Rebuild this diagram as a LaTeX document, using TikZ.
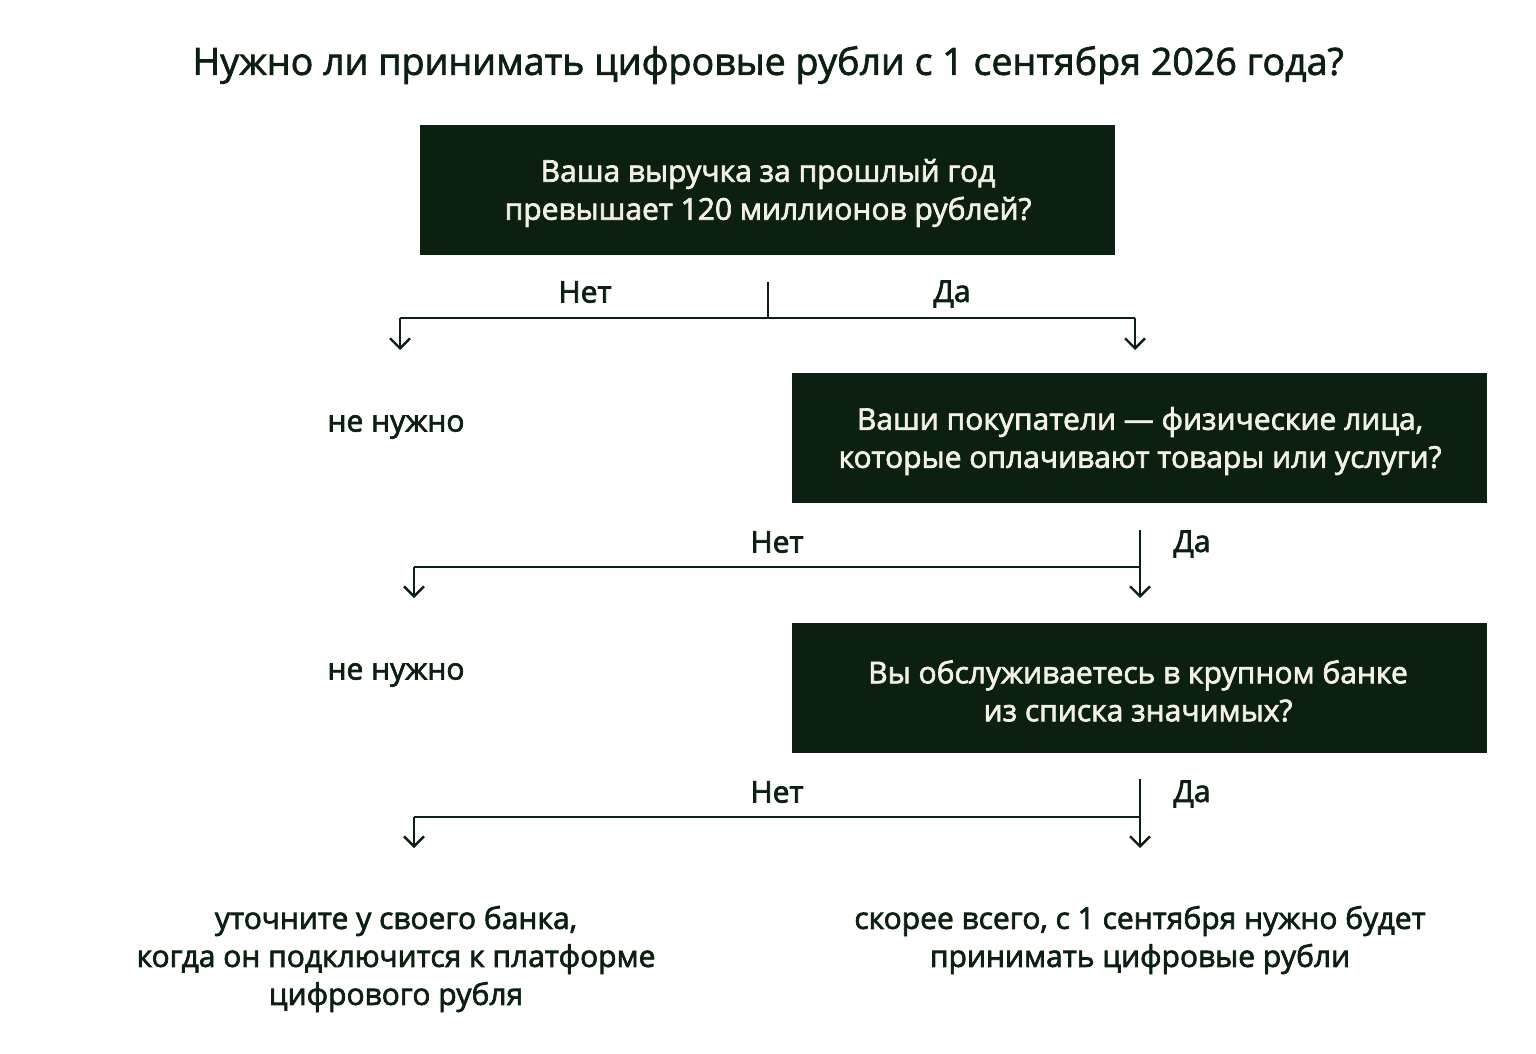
\documentclass[tikz,border=0pt]{standalone}
\usepackage{fontspec}
\setmainfont{Open Sans}
\usetikzlibrary{arrows.meta}
\definecolor{dkgreen}{HTML}{0C2011}
\definecolor{cream}{HTML}{F3F1E4}
\newcommand\medon{\special{pdf:literal direct 2 Tr 0.35 w}}
\newcommand\medoff{\special{pdf:literal direct 0 Tr}}
\tikzset{
  qbox/.style={fill=dkgreen, minimum width=347.5pt, minimum height=65pt, inner sep=0pt},
  qtext/.style={text=cream, align=center, inner sep=0pt, font=\fontsize{15}{19}\selectfont},
  lbl/.style={text=dkgreen, font=\fontsize{15}{19}\selectfont, inner sep=0pt},
  res/.style={text=dkgreen, align=center, inner sep=0pt, font=\fontsize{15}{19}\selectfont},
  conn/.style={draw=dkgreen, line width=1.25pt},
  arr/.style={conn, -{Straight Barb[length=5pt,width=10pt,line width=1.2pt]}},
}
\begin{document}
\begin{tikzpicture}[x=0.5pt,y=-0.5pt]
\useasboundingbox[fill=white] (0,0) rectangle (1536,1054);
\node[text=dkgreen, font=\fontsize{18.8}{20}\selectfont, inner sep=0pt] (title) at (768,65) {\medon Нужно ли принимать цифровые рубли с 1 сентября 2026 года?\medoff};

\node[qbox] (q1) at (767.5,190) {};
\node[qtext] (t1) at (768,193) {\medon Ваша выручка за прошлый год\medoff\\\medon превышает 120 миллионов рублей?\medoff};
\node[qbox] (q2) at (1139.5,438) {};
\node[qtext] (t2) at (1140,441) {\medon Ваши покупатели — физические лица,\medoff\\\medon которые оплачивают товары или услуги?\medoff};
\node[qbox] (q3) at (1139.5,687.5) {};
\node[qtext] (t3) at (1138,691) {\medon Вы обслуживаетесь в крупном банке\medoff\\\medon из списка значимых?\medoff};

% connector 1
\coordinate (s1) at (768,282);
\coordinate (j1) at (768,318);
\coordinate (l1) at (400,318);
\coordinate (r1) at (1135,318);
\coordinate (le1) at (400,350);
\coordinate (re1) at (1135,350);
\draw[conn] (s1) -- (j1);
\draw[conn] (l1) -- (r1);
\draw[arr] (l1) -- (le1);
\draw[arr] (r1) -- (re1);
\node[lbl] (no1) at (585,292) {\medon Нет\medoff};
\node[lbl] (yes1) at (952,294) {\medon Да\medoff};

\node[res] (n1) at (396,427) {\medon не нужно\medoff};

% connector 2
\coordinate (s2) at (1140,530);
\coordinate (j2) at (1140,567);
\coordinate (l2) at (414,567);
\coordinate (le2) at (414,598);
\coordinate (re2) at (1140,598);
\draw[arr] (s2) -- (re2);
\draw[conn] (l2) -- (j2);
\draw[arr] (l2) -- (le2);
\node[lbl] (no2) at (777,542) {\medon Нет\medoff};
\node[lbl, anchor=west] (yes2) at (1173,544) {\medon Да\medoff};

\node[res] (n2) at (396,675) {\medon не нужно\medoff};

% connector 3
\coordinate (s3) at (1140,779);
\coordinate (j3) at (1140,817);
\coordinate (l3) at (414,817);
\coordinate (le3) at (414,848);
\coordinate (re3) at (1140,848);
\draw[arr] (s3) -- (re3);
\draw[conn] (l3) -- (j3);
\draw[arr] (l3) -- (le3);
\node[lbl] (no3) at (777,792) {\medon Нет\medoff};
\node[lbl, anchor=west] (yes3) at (1173,794) {\medon Да\medoff};

\node[res] (f1) at (396,959) {\medon уточните у своего банка,\medoff\\\medon когда он подключится к платформе\medoff\\\medon цифрового рубля\medoff};
\node[res] (f2) at (1140,940) {\medon скорее всего, с 1 сентября нужно будет\medoff\\\medon принимать цифровые рубли\medoff};
\end{tikzpicture}
\end{document}
